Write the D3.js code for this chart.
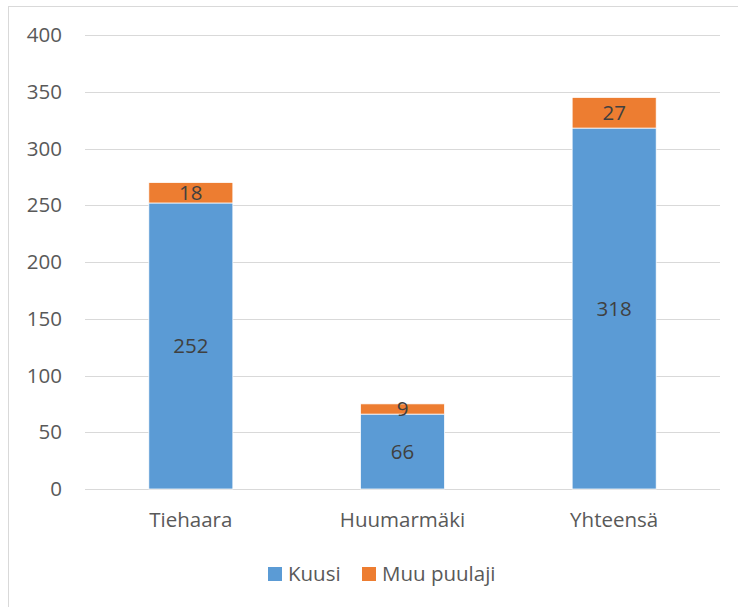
<!DOCTYPE html>
<html>
<head>
<meta charset="utf-8">
<script src="https://cdn.jsdelivr.net/npm/d3@7"></script>
<style>
  body { margin: 0; background: #fff; }
  text { font-family: "Open Sans", sans-serif; }
</style>
</head>
<body>
<div id="chart"></div>
<script>
var categories = ["Tiehaara", "Huumarmäki", "Yhteensä"];
var kuusi = [252, 66, 318];
var muu = [18, 9, 27];
var seriesNames = ["Kuusi", "Muu puulaji"];
var yTicks = [0, 50, 100, 150, 200, 250, 300, 350, 400];

var colors = d3.scaleOrdinal().domain(seriesNames).range(["#5b9bd5", "#ed7d31"]);

var W = 738, H = 607;
var margin = { top: 35, left: 85, right: 18, bottom: 118 },
  width = W - margin.left - margin.right,
  height = H - margin.top - margin.bottom;

var svg = d3.select("#chart").append("svg")
  .attr("width", W)
  .attr("height", H);

// chart border
svg.append("rect")
  .attr("x", 8.5).attr("y", 6.5)
  .attr("width", W + 10).attr("height", H + 10)
  .attr("fill", "#fff")
  .attr("stroke", "#d9d9d9");

var g = svg.append("g")
  .attr("transform", "translate(" + margin.left + "," + margin.top + ")");

var x = d3.scaleBand().domain(categories).range([0, width])
  .paddingInner(0.603).paddingOuter(0.3015);
var y = d3.scaleLinear().domain([0, 400]).range([height, 0]);

// gridlines
g.append("g").selectAll("line")
  .data(yTicks)
  .enter().append("line")
  .attr("x1", 0).attr("x2", width)
  .attr("y1", function (d) { return Math.round(y(d)) + 0.5; })
  .attr("y2", function (d) { return Math.round(y(d)) + 0.5; })
  .attr("stroke", "#d9d9d9")
  .attr("stroke-width", 1);

// y axis labels
var yAxis = g.append("g")
  .call(d3.axisLeft(y).tickValues(yTicks).tickSize(0).tickPadding(23));
yAxis.select(".domain").remove();
yAxis.selectAll("text")
  .style("font-family", "'Open Sans', sans-serif")
  .style("font-size", "20.5px")
  .attr("fill", "#595959");

var data = categories.map(function (c, i) {
  return { cat: c, kuusi: kuusi[i], muu: muu[i] };
});
var stacked = d3.stack().keys(["kuusi", "muu"])(data);

var layers = g.selectAll(".layer")
  .data(stacked)
  .enter().append("g")
  .attr("class", "layer")
  .attr("fill", function (d, i) { return colors(seriesNames[i]); });

layers.selectAll("rect")
  .data(function (d) { return d; })
  .enter().append("rect")
  .attr("x", function (d) { return x(d.data.cat); })
  .attr("width", x.bandwidth())
  .attr("y", function (d) { return y(d[1]); })
  .attr("height", function (d) { return y(d[0]) - y(d[1]); })
  .attr("stroke", "#fff")
  .attr("stroke-width", 0.75);

layers.selectAll("text")
  .data(function (d) { return d; })
  .enter().append("text")
  .attr("x", function (d) { return x(d.data.cat) + x.bandwidth() / 2; })
  .attr("y", function (d) { return (y(d[0]) + y(d[1])) / 2; })
  .attr("dy", "0.35em")
  .attr("text-anchor", "middle")
  .style("font-size", "20.5px")
  .attr("fill", "#404040")
  .text(function (d) { return d[1] - d[0]; });

// x axis labels
g.append("g").selectAll("text")
  .data(categories)
  .enter().append("text")
  .attr("x", function (d) { return x(d) + x.bandwidth() / 2; })
  .attr("y", height + 31)
  .attr("dy", "0.35em")
  .attr("text-anchor", "middle")
  .style("font-size", "20.5px")
  .attr("fill", "#595959")
  .text(function (d) { return d; });

// legend
var legendX = [268, 362];
var legend = svg.append("g").selectAll("g")
  .data(seriesNames)
  .enter().append("g")
  .attr("transform", function (d, i) { return "translate(" + legendX[i] + ",567)"; });
legend.append("rect")
  .attr("width", 14).attr("height", 14)
  .attr("fill", function (d) { return colors(d); });
legend.append("text")
  .attr("x", 20).attr("y", 7)
  .attr("dy", "0.35em")
  .style("font-size", "20.5px")
  .attr("fill", "#595959")
  .text(function (d) { return d; });
</script>
</body>
</html>
